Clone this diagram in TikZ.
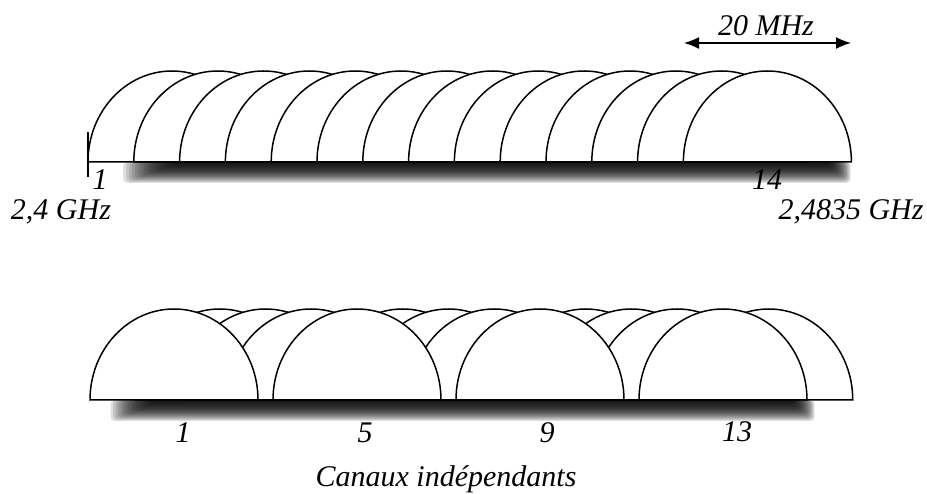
\documentclass[tikz,border=0pt]{standalone}
\usepackage{fontspec}
\setmainfont{Liberation Serif}
\usetikzlibrary{arrows.meta,positioning,calc}
\definecolor{ShadowGrey}{RGB}{0,0,0}

\begin{document}
\begin{tikzpicture}[x=1pt,y=1pt,>={Latex[length=15pt,width=12pt]},
  chan/.style={draw=black,fill=white,line width=1.5pt},
  lbl/.style={font=\itshape\fontsize{30}{36}\selectfont,inner sep=0pt,anchor=base}]
  \useasboundingbox (0,0) rectangle (927,493);
  % soft shadows below both bands
  \foreach \k in {1,...,20} {
    \fill[ShadowGrey,opacity=0.12,rounded corners=4pt] (120+3*\k,331) rectangle (852-1.3*\k,309+1.1*\k);
    \fill[ShadowGrey,opacity=0.12,rounded corners=4pt] (108+2.5*\k,93) rectangle (816-1.3*\k,71+1.1*\k);
  }
  % all fourteen channels
  \foreach \c in {1,...,14}
    \draw[chan] ({88+(\c-1)*45.8},331) arc[start angle=180,end angle=0,x radius=84pt,y radius=91pt] -- cycle;
  \draw[line width=1.5pt] (88,361) -- (88,316);
  % independent channels on top
  \foreach \c in {2,3,4,6,7,8,10,11,12,14,1,5,9,13}
    \draw[chan] ({90+(\c-1)*45.75},93) arc[start angle=180,end angle=0,x radius=84pt,y radius=91pt] -- cycle;

  \coordinate (bwl) at (684,450);
  \coordinate (bwr) at (851,450);
  \draw[<->,line width=1.5pt] (bwl) -- (bwr);
  \node[lbl] (bw) at (766,457) {20 MHz};

  \node[lbl] (tone) at (100,303) {1};
  \node[lbl] (tfourteen) at (767,303) {14};
  \node[lbl] (flow) at (61,273) {2,4 GHz};
  \node[lbl] (fhigh) at (851,273) {2,4835 GHz};

  \node[lbl] (bone) at (183,50) {1};
  \node[lbl] (bfive) at (365,50) {5};
  \node[lbl] (bnine) at (547,50) {9};
  \node[lbl] (bthirteen) at (737,51) {13};
  \node[lbl] (indep) at (446,6) {Canaux indépendants};
\end{tikzpicture}
\end{document}
